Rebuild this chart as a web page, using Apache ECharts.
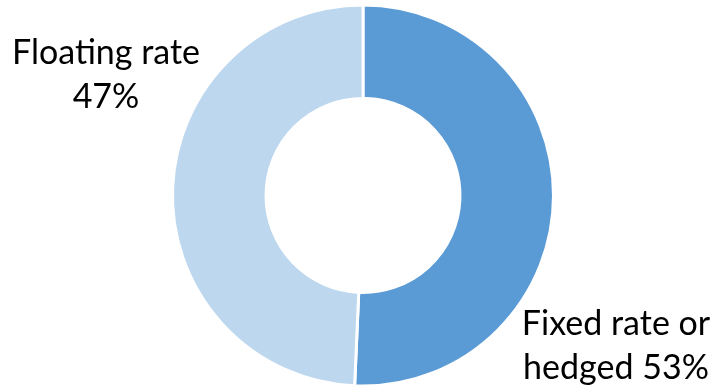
<!DOCTYPE html>
<html>
<head>
<meta charset="utf-8">
<script src="https://cdn.jsdelivr.net/npm/echarts@6/dist/echarts.min.js"></script>
<style>
html,body{margin:0;padding:0;background:#fff;}
#chart{width:720px;height:391px;}
</style>
</head>
<body>
<div id="chart"></div>
<script>
const categories = ["Fixed rate or\nhedged", "Floating rate\n"];
// slice sizes as drawn in the picture
const values = [50.7, 49.3];
// percentages as printed in the labels
const labelPercents = ["53%", "47%"];
const colors = ["#5B9BD5", "#BDD7EE"];
const labelPos = [
  { x: 616, y: 346 },
  { x: 106, y: 75 }
];

const chart = echarts.init(document.getElementById('chart'), null, { renderer: 'canvas' });
chart.setOption({
  animation: false,
  backgroundColor: '#ffffff',
  series: [{
    type: 'pie',
    center: [363, 195.5],
    radius: [97, 190.5],
    startAngle: 90,
    clockwise: true,
    avoidLabelOverlap: false,
    itemStyle: { borderColor: '#ffffff', borderWidth: 3 },
    label: {
      show: true,
      position: 'outside',
      formatter: p => p.name + (p.name.endsWith('\n') ? '' : ' ') + labelPercents[p.dataIndex],
      fontFamily: 'Lato',
      fontSize: 34,
      lineHeight: 44,
      color: '#000000',
      align: 'center'
    },
    labelLine: { show: false },
    labelLayout: function (params) {
      const p = labelPos[params.dataIndex];
      return { x: p.x, y: p.y, align: 'center', verticalAlign: 'middle' };
    },
    emphasis: { disabled: true },
    data: categories.map((c, i) => ({ name: c, value: values[i], itemStyle: { color: colors[i] } }))
  }]
});
</script>
</body>
</html>
